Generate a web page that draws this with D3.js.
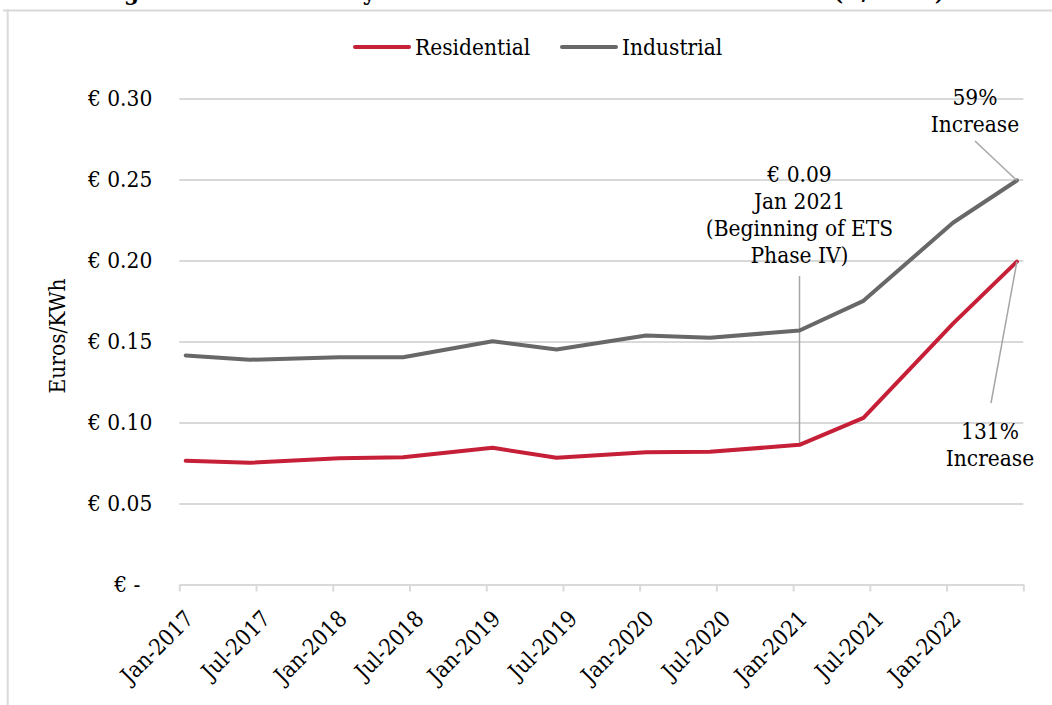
<!DOCTYPE html>
<html>
<head>
<meta charset="utf-8">
<script src="https://cdn.jsdelivr.net/npm/d3@7"></script>
<style>
  html, body { margin: 0; padding: 0; background: #fff; }
  svg { display: block; }
  text {
    font-family: "DejaVu Serif Condensed", "DejaVu Serif", serif;
    font-stretch: condensed;
    fill: #000;
  }
</style>
</head>
<body>
<svg id="chart" width="1052" height="705"></svg>
<script>
// Half-yearly electricity prices, euros per kWh
const periods = ["2017-01", "2017-06", "2018-01", "2018-06", "2019-01", "2019-06",
                 "2020-01", "2020-06", "2021-01", "2021-06", "2022-01", "2022-06"];
const residential = [0.0764, 0.0751, 0.0780, 0.0786, 0.0844, 0.0782,
                     0.0817, 0.0819, 0.0862, 0.1029, 0.1610, 0.1993];
const industrial  = [0.1414, 0.1387, 0.1403, 0.1403, 0.1502, 0.1451,
                     0.1537, 0.1523, 0.1568, 0.1751, 0.2233, 0.2494];
const seriesNames = ["Residential", "Industrial"];

// Axis ticks
const xTickMonths = ["2017-01", "2017-07", "2018-01", "2018-07", "2019-01", "2019-07",
                     "2020-01", "2020-07", "2021-01", "2021-07", "2022-01", "2022-07"];
const xTickLabels = ["Jan-2017", "Jul-2017", "Jan-2018", "Jul-2018", "Jan-2019", "Jul-2019",
                     "Jan-2020", "Jul-2020", "Jan-2021", "Jul-2021", "Jan-2022", ""];
const yTickValues = [0, 0.05, 0.10, 0.15, 0.20, 0.25, 0.30];
const yTickLabels = ["€ -", "€ 0.05", "€ 0.10", "€ 0.15", "€ 0.20", "€ 0.25", "€ 0.30"];

const titleText = "Figure 3: Electricity Costs for Homes and Industries (€/KWh)";
const axisTitle = "Euros/KWh";
const phaseMonth = "2021-01";
const phaseNote = ["Jan 2021", "(Beginning of ETS", "Phase IV)"];

const colors = { Residential: "#c61f38", Industrial: "#686868" };
const gridColor = "#d9d9d9";
const leaderColor = "#a6a6a6";

// Month index counted from the first month of the axis
const monthIndex = s => {
  const [y, m] = s.split("-").map(Number);
  return (y - 2017) * 12 + (m - 1);
};

const svg = d3.select("#chart");
const W = 1052, H = 705;
const margin = { left: 179.3, right: 28.7, top: 98.5, bottom: 120.5 };
const innerW = W - margin.left - margin.right;
const innerH = H - margin.top - margin.bottom;

// Outer frame
svg.append("line").attr("x1", 3).attr("x2", W).attr("y1", 10.5).attr("y2", 10.5)
  .attr("stroke", gridColor).attr("stroke-width", 2);
svg.append("line").attr("x1", 7.7).attr("x2", 7.7).attr("y1", 9.5).attr("y2", H)
  .attr("stroke", gridColor).attr("stroke-width", 2);

// Title (runs above the frame, only its lowest strokes fall inside the page)
svg.append("text")
  .attr("x", 97).attr("y", 0)
  .attr("textLength", 848)
  .attr("lengthAdjust", "spacing")
  .style("font-weight", "bold")
  .style("font-size", "24px")
  .text(titleText);

const g = svg.append("g").attr("transform", `translate(${margin.left},${margin.top})`);

// Month-based x scale: each month is one slot, points sit in the slot centre
const x = d3.scaleLinear().domain([0, 66]).range([0, innerW]);
const y = d3.scaleLinear().domain([0, 0.30]).range([innerH, 0]);
const xPoint = s => x(monthIndex(s) + 0.5);

// Horizontal gridlines
const yAxis = d3.axisLeft(y)
  .tickValues(yTickValues)
  .tickSize(-innerW)
  .tickPadding(27)
  .tickFormat((d, i) => yTickLabels[i]);
const yG = g.append("g").call(yAxis);
yG.select(".domain").remove();
yG.selectAll(".tick line")
  .attr("stroke", gridColor).attr("stroke-width", 2)
  .attr("display", d => d === 0 ? "none" : null);
yG.selectAll(".tick text")
  .style("font-size", "22.5px")
  .attr("fill", "#000")
  .attr("dx", d => d === 0 ? -12 : 0);

// Bottom axis with tick marks at six-month boundaries
const xAxis = d3.axisBottom(x)
  .tickValues(xTickMonths.map(monthIndex))
  .tickSize(7)
  .tickSizeOuter(0)
  .tickFormat("");
const xG = g.append("g").attr("transform", `translate(0,${innerH})`).call(xAxis);
xG.select(".domain").attr("stroke", gridColor).attr("stroke-width", 2);
xG.selectAll(".tick line").attr("stroke", gridColor).attr("stroke-width", 2);

g.append("g").selectAll("text")
  .data(xTickMonths)
  .join("text")
  .attr("transform", d => `translate(${x(monthIndex(d)) + 10},${innerH + 30}) rotate(-45)`)
  .attr("text-anchor", "end")
  .attr("dy", "0.35em")
  .style("font-size", "22.5px")
  .text((d, i) => xTickLabels[i]);

// Axis title
svg.append("text")
  .attr("transform", `translate(57,336) rotate(-90)`)
  .attr("text-anchor", "middle")
  .attr("dy", "0.35em")
  .style("font-size", "22.5px")
  .text(axisTitle);

// Series lines
const series = [
  { name: "Industrial", values: industrial },
  { name: "Residential", values: residential }
];
const line = d3.line()
  .x((d, i) => xPoint(periods[i]))
  .y(d => y(d));

// Phase IV marker line from the note down to the residential point
const pi = periods.indexOf(phaseMonth);
const px = xPoint(phaseMonth);
g.append("line")
  .attr("x1", px).attr("x2", px)
  .attr("y1", 276 - margin.top).attr("y2", y(residential[pi]))
  .attr("stroke", leaderColor).attr("stroke-width", 1.5);

g.selectAll("path.series")
  .data(series)
  .join("path")
  .attr("class", "series")
  .attr("d", d => line(d.values))
  .attr("fill", "none")
  .attr("stroke", d => colors[d.name])
  .attr("stroke-width", 4)
  .attr("stroke-linejoin", "round")
  .attr("stroke-linecap", "round");

// Phase IV note
const fmtEuro = v => "€ " + d3.format(".2f")(v);
const noteLines = [fmtEuro(residential[pi])].concat(phaseNote);
g.append("text")
  .attr("text-anchor", "middle")
  .style("font-size", "22.5px")
  .selectAll("tspan")
  .data(noteLines)
  .join("tspan")
  .attr("x", px)
  .attr("y", (d, i) => 182 - margin.top + i * 27)
  .text(d => d);

// Percentage increases from Jan 2021 to the last period
const last = periods.length - 1;
const fmtPct = d3.format(".0%");
const indPct = fmtPct(industrial[last] / industrial[pi] - 1);
const resPct = fmtPct(residential[last] / residential[pi] - 1);
const lx = xPoint(periods[last]);

g.append("line")
  .attr("x1", lx).attr("y1", y(industrial[last]))
  .attr("x2", 975 - margin.left).attr("y2", 141 - margin.top)
  .attr("stroke", leaderColor).attr("stroke-width", 1.5);
g.append("line")
  .attr("x1", lx).attr("y1", y(residential[last]))
  .attr("x2", 991 - margin.left).attr("y2", 403 - margin.top)
  .attr("stroke", leaderColor).attr("stroke-width", 1.5);

g.append("text")
  .attr("text-anchor", "middle")
  .style("font-size", "22.5px")
  .selectAll("tspan")
  .data([indPct, "Increase"])
  .join("tspan")
  .attr("x", 975 - margin.left)
  .attr("y", (d, i) => 105 - margin.top + i * 27)
  .text(d => d);

g.append("text")
  .attr("text-anchor", "middle")
  .style("font-size", "22.5px")
  .selectAll("tspan")
  .data([resPct, "Increase"])
  .join("tspan")
  .attr("x", 990 - margin.left)
  .attr("y", (d, i) => 439 - margin.top + i * 27)
  .text(d => d);

// Legend
const legendItems = [
  { name: seriesNames[0], x0: 355 },
  { name: seriesNames[1], x0: 562 }
];
const lg = svg.append("g");
lg.selectAll("line")
  .data(legendItems)
  .join("line")
  .attr("x1", d => d.x0).attr("x2", d => d.x0 + 54)
  .attr("y1", 47).attr("y2", 47)
  .attr("stroke", d => colors[d.name])
  .attr("stroke-width", 4)
  .attr("stroke-linecap", "round");
lg.selectAll("text")
  .data(legendItems)
  .join("text")
  .attr("x", d => d.x0 + 60)
  .attr("y", 55)
  .style("font-size", "22.5px")
  .text(d => d.name);
</script>
</body>
</html>
